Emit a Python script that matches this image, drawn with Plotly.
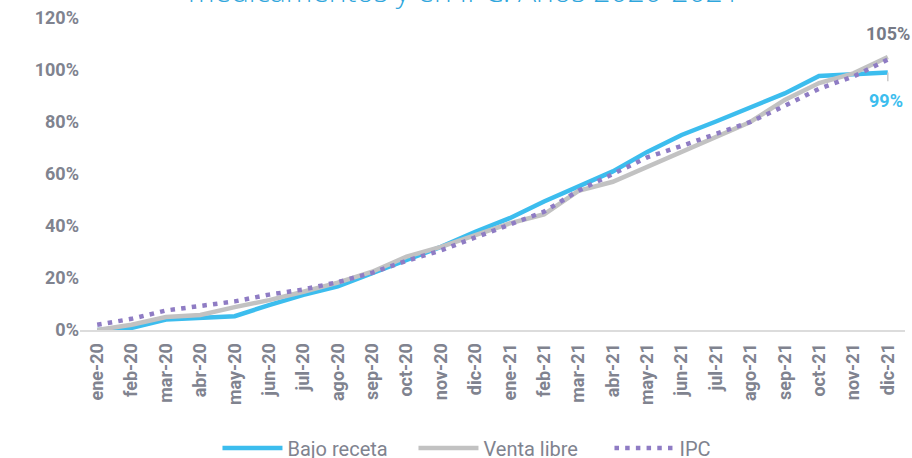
import plotly.graph_objects as go

months = ["ene-20", "feb-20", "mar-20", "abr-20", "may-20", "jun-20", "jul-20", "ago-20",
          "sep-20", "oct-20", "nov-20", "dic-20", "ene-21", "feb-21", "mar-21", "abr-21",
          "may-21", "jun-21", "jul-21", "ago-21", "sep-21", "oct-21", "nov-21", "dic-21"]

bajo_receta = [0, 0.8, 4, 4.6, 5.3, 9.6, 13.5, 16.8, 22, 27, 32, 37.8,
               43, 49.4, 55, 61, 68.5, 75, 80.2, 85.7, 91, 97.7, 98.5, 99]
venta_libre = [0, 2, 5, 5.8, 8.8, 11.5, 14.7, 18.2, 22.4, 28.2, 32, 36.3,
               41, 44.5, 53.5, 57, 62.8, 68.6, 74.4, 80, 88.5, 95, 98.7, 105]
ipc = [2, 4.3, 7.5, 9.4, 11, 13.6, 15.6, 18.4, 22, 26.6, 30.6, 35.6,
       40.4, 45.5, 53.6, 60.2, 66.4, 70.8, 75.4, 80, 86.2, 92.8, 97.5, 104]

title_text = "medicamentos y en IPC. Años 2020-2021"
label_vl = "105%"
label_br = "99%"

BLUE = "#3cbdee"
GRAY = "#c2c2c2"
PURPLE = "#8f7cc4"
TXT = "#80838f"

fig = go.Figure()
fig.add_trace(go.Scatter(x=months, y=bajo_receta, name="Bajo receta", mode="lines",
                         line=dict(color=BLUE, width=4.5)))
fig.add_trace(go.Scatter(x=months, y=venta_libre, name="Venta libre", mode="lines",
                         line=dict(color=GRAY, width=4.5)))
fig.add_trace(go.Scatter(x=months, y=ipc, name="IPC", mode="lines",
                         line=dict(color=PURPLE, width=4.5, dash="4.5px,6.2px")))

fig.add_annotation(x=months[-1], y=venta_libre[-1], text="<b>" + label_vl + "</b>",
                   showarrow=False, yshift=24, xshift=0,
                   font=dict(family="Roboto", size=18, color="#767a86"))
fig.add_annotation(x=months[-1], y=bajo_receta[-1], text="<b>" + label_br + "</b>",
                   showarrow=False, yshift=-28, xshift=-2,
                   font=dict(family="Roboto", size=18, color=BLUE))
fig.add_shape(type="line", x0=months[-1], x1=months[-1], y0=bajo_receta[-1] - 3.3, y1=bajo_receta[-1],
              line=dict(color="#c8c8c8", width=1.5))

fig.add_annotation(xref="paper", yref="paper", x=0.465, y=1, yanchor="bottom", yshift=5,
                   text=title_text, showarrow=False,
                   font=dict(family="Open Sans", size=30, color="#2fa6dc", weight=300))

fig.update_layout(
    width=912, height=458,
    margin=dict(l=80, r=7, t=18, b=128, autoexpand=False),
    paper_bgcolor="white", plot_bgcolor="white",
    font=dict(family="Roboto", color=TXT),
    showlegend=True,
    legend=dict(orientation="h", x=0.523, xanchor="center", y=-0.378, yanchor="middle",
                font=dict(size=20, color=TXT), itemwidth=60, traceorder="normal",
                entrywidth=121, entrywidthmode="pixels"),
    xaxis=dict(type="category", range=[-0.5, 23.5], tickangle=-90, showgrid=False, showline=True,
               linecolor="#dcdcdc", linewidth=2, ticks="", automargin=False,
               ticklabelstandoff=4,
               tickfont=dict(family="Roboto", size=18, color=TXT, weight="bold")),
    yaxis=dict(range=[0, 120], dtick=20, ticksuffix="%", showgrid=False, zeroline=False,
               showline=False, ticks="", automargin=False,
               tickfont=dict(family="Roboto", size=18, color=TXT, weight="bold")),
)

fig.write_html("out.html", config={"displayModeBar": False},
               post_script="document.body.style.margin='0';document.body.style.overflow='hidden';")
